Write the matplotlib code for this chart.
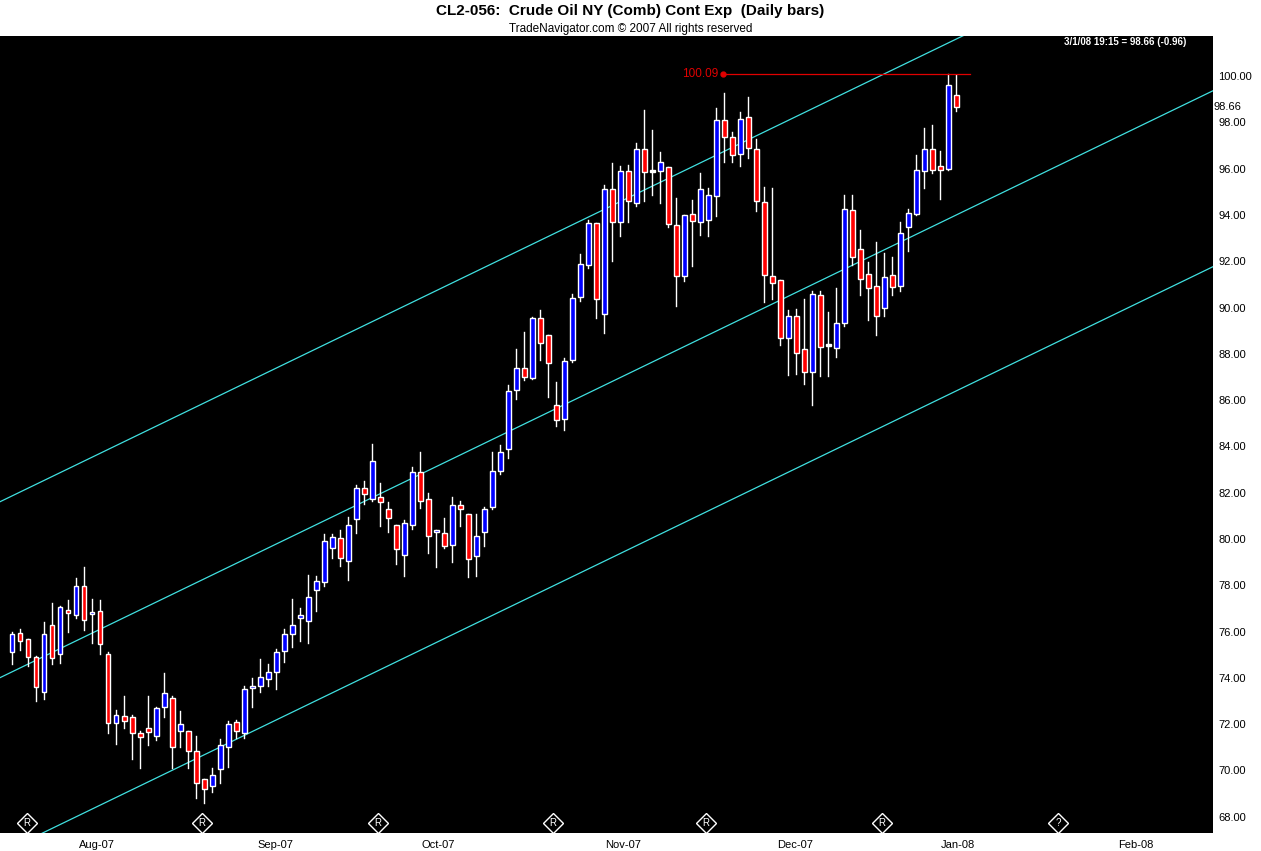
import matplotlib
matplotlib.use("Agg")
import matplotlib.pyplot as plt
from matplotlib.patches import Rectangle
import numpy as np

# OHLC daily bars
opens = [75.1,75.95,75.7,74.9,73.4,76.3,75.05,76.95,76.7,77.95,76.75,76.9,75.05,72.05,72.35,72.3,71.6,71.85,71.5,72.75,
         73.15,71.7,71.7,70.85,69.65,69.35,70.05,71.0,72.1,71.6,73.55,73.65,73.95,74.25,75.15,75.9,76.6,76.45,77.8,78.15,
         79.6,80.05,79.05,80.85,82.2,81.75,81.8,81.3,80.6,79.3,80.6,82.9,81.75,80.3,80.25,79.75,81.45,81.1,79.25,80.3,
         81.4,82.95,83.9,86.45,87.4,86.95,89.55,88.8,85.8,85.2,87.75,90.45,91.85,93.65,89.7,95.1,93.7,95.9,94.5,96.85,
         95.85,95.9,96.05,93.55,91.35,94.05,93.7,93.8,94.8,98.1,97.35,96.65,98.25,96.85,94.55,91.35,91.2,88.7,89.65,88.2,
         87.2,90.55,88.35,88.25,89.35,94.2,92.55,91.45,90.95,90.0,91.4,90.95,93.5,94.05,95.9,96.85,96.1,96.0,99.2]
highs = [76.0,76.1,75.7,74.95,76.4,77.25,77.1,77.35,78.3,78.8,77.4,77.35,75.1,72.6,73.2,72.4,71.7,73.2,72.75,74.2,
         73.2,72.55,71.7,71.5,69.65,70.1,71.35,72.15,72.2,73.65,74.0,74.8,74.6,75.25,76.1,77.4,77.0,78.45,78.4,80.2,
         80.2,80.4,80.95,82.35,82.5,84.1,82.4,81.6,80.6,80.8,83.1,83.75,82.0,80.4,80.9,81.8,81.65,81.1,81.1,81.4,
         83.75,84.05,86.65,88.2,88.95,89.6,89.9,88.8,86.8,87.8,90.6,92.3,93.8,93.65,95.3,96.25,96.1,96.15,97.1,98.55,
         97.65,96.7,96.05,94.75,94.0,94.65,95.8,95.15,98.6,99.25,97.6,98.45,99.1,97.3,95.2,95.15,91.2,89.9,89.95,90.35,
         90.7,90.7,89.8,90.85,94.85,94.85,93.35,91.95,92.85,92.35,92.2,93.7,94.25,96.6,97.75,97.9,96.75,100.09,100.05]
lows = [74.6,75.2,74.5,73.0,73.1,74.6,74.65,76.0,76.6,76.05,75.5,75.05,71.6,71.15,71.85,70.5,70.1,71.1,71.3,72.3,
        70.1,71.0,70.1,68.8,68.6,69.05,69.45,70.15,71.4,71.4,72.75,73.4,73.65,73.5,74.7,75.35,75.6,75.5,76.9,77.95,
        79.2,78.85,78.25,80.25,81.5,81.65,80.55,80.3,78.9,78.4,80.45,81.35,79.4,78.8,79.6,79.0,80.55,78.35,78.4,79.7,
        81.3,82.8,83.5,86.05,86.85,86.9,87.75,86.15,84.9,84.7,87.65,90.3,91.7,89.55,88.9,92.0,93.1,93.7,94.4,94.6,
        94.85,94.5,93.5,90.05,91.15,91.8,93.15,93.1,93.95,96.3,96.3,96.1,96.45,94.15,90.25,90.35,88.4,87.1,87.15,86.7,
        85.8,87.05,87.05,87.85,89.2,91.85,90.55,89.45,88.8,89.65,90.55,90.7,92.45,94.0,95.15,95.8,94.7,95.95,98.5]
closes = [75.9,75.6,74.9,73.6,75.9,74.85,77.05,76.8,77.95,76.5,76.85,75.45,72.05,72.4,72.15,71.6,71.45,71.65,72.7,73.35,
          71.0,72.0,70.85,69.45,69.2,69.8,71.1,72.0,71.7,73.5,73.6,74.05,74.25,75.1,75.9,76.3,76.7,77.5,78.2,79.9,
          80.1,79.2,80.6,82.2,81.95,83.35,81.6,80.9,79.55,80.7,82.9,81.65,80.15,80.35,79.7,81.45,81.3,79.15,80.15,81.3,
          82.95,83.75,86.4,87.4,87.0,89.55,88.45,87.6,85.15,87.7,90.4,91.9,93.65,90.35,95.1,93.7,95.9,94.6,96.85,95.85,
          95.85,96.3,93.6,91.35,94.0,93.75,95.1,94.85,98.1,97.35,96.6,98.15,96.9,94.6,91.4,91.05,88.7,89.65,88.05,87.2,
          90.6,88.3,88.35,89.35,94.25,92.2,91.25,90.85,89.65,91.3,90.9,93.2,94.1,95.95,96.85,95.95,95.95,99.6,98.66]

month_labels = ["Aug-07", "Sep-07", "Oct-07", "Nov-07", "Dec-07", "Jan-08", "Feb-08"]
month_pos = [10.6, 32.9, 53.25, 76.4, 97.9, 118.25, 140.4]
marker_pos = [1.9, 23.75, 45.75, 67.6, 86.75, 108.75, 130.75]
marker_text = ["R", "R", "R", "R", "R", "R", "?"]

# regression channel (index, price) endpoints of centre line and half-width
chan_x = [-1.5, 150.25]
chan_y = [74.01, 99.39]
chan_w = 7.6

peak_val = 100.09
peak_range = [88.9, 119.75]
last_val = 98.66

W, H = 1261, 851
fig = plt.figure(figsize=(W/100, H/100), dpi=100, facecolor="white")
ax = fig.add_axes([0, 18/H, 1213/W, (834-37)/H], facecolor="black")
xmin, xmax = -1.5, 150.1
ymin, ymax = 67.3, 101.73
ax.set_xlim(xmin, xmax)
ax.set_ylim(ymin, ymax)

# channel lines
for off in (-chan_w, 0, chan_w):
    ax.plot(chan_x, [v + off for v in chan_y], color="#40e0e0", lw=0.9, zorder=1)

bw = 0.62
for i, (o, h, l, c) in enumerate(zip(opens, highs, lows, closes)):
    col = "#0000ff" if c >= o else "#ff0000"
    if abs(c - o) < 0.02:
        col = "white"
    ax.plot([i, i], [l, h], color="white", lw=1.0, zorder=2)
    lo, hi = min(o, c), max(o, c)
    ax.add_patch(Rectangle((i - bw/2, lo), bw, max(hi - lo, 0.08), facecolor=col,
                           edgecolor="white", lw=1.0, zorder=3))

# peak line
ax.plot(peak_range, [peak_val, peak_val], color="#e00000", lw=0.9, zorder=4)
ax.plot([peak_range[0]], [peak_val], "o", color="#e00000", ms=3.5, zorder=5)
ax.text(peak_range[0] - 0.6, peak_val, f"{peak_val:.2f}", color="#e00000", fontsize=8.5,
        ha="right", va="center", family="Liberation Sans")

# R markers
for p, t in zip(marker_pos, marker_text):
    ax.plot([p], [67.75], marker="D", ms=10, mfc="none", mec="white", mew=1.0, zorder=5)
    ax.text(p, 67.75, t, color="white", fontsize=7, ha="center", va="center", zorder=6,
            family="Liberation Sans")

ax.set_xticks([])
ax.yaxis.tick_right()
ticks = np.arange(68, 101, 2)
ax.set_yticks(ticks)
ax.set_yticklabels([f"{t:.2f}" for t in ticks], fontsize=8, family="Liberation Sans")
ax.tick_params(axis="y", length=0, pad=4)
for s in ax.spines.values():
    s.set_visible(False)

# last price label
ax.annotate(f"{last_val:.2f}", xy=(1.0, last_val), xycoords=("axes fraction", "data"),
            xytext=(0, 0), textcoords="offset points", ha="left", va="center",
            fontsize=8, family="Liberation Sans", annotation_clip=False)

# month labels
for p, lab in zip(month_pos, month_labels):
    ax.annotate(lab, xy=(p, ymin), xycoords="data", xytext=(0, -9), textcoords="offset points",
                ha="center", va="center", fontsize=8, family="Liberation Sans", annotation_clip=False)

fig.text(0.5, 1 - 11/H, "CL2-056:  Crude Oil NY (Comb) Cont Exp  (Daily bars)", ha="center", va="center",
         fontsize=11, fontweight="bold", family="Liberation Sans")
fig.text(0.5, 1 - 29/H, "TradeNavigator.com \u00a9 2007 All rights reserved", ha="center", va="center",
         fontsize=8.5, family="Liberation Sans")
fig.text(1125/W, 1 - 42/H, "3/1/08 19:15 = 98.66 (-0.96)", ha="center", va="center", color="white",
         fontsize=7, fontweight="bold", family="Liberation Sans")

fig.savefig("out.png", dpi=100, facecolor="white")
